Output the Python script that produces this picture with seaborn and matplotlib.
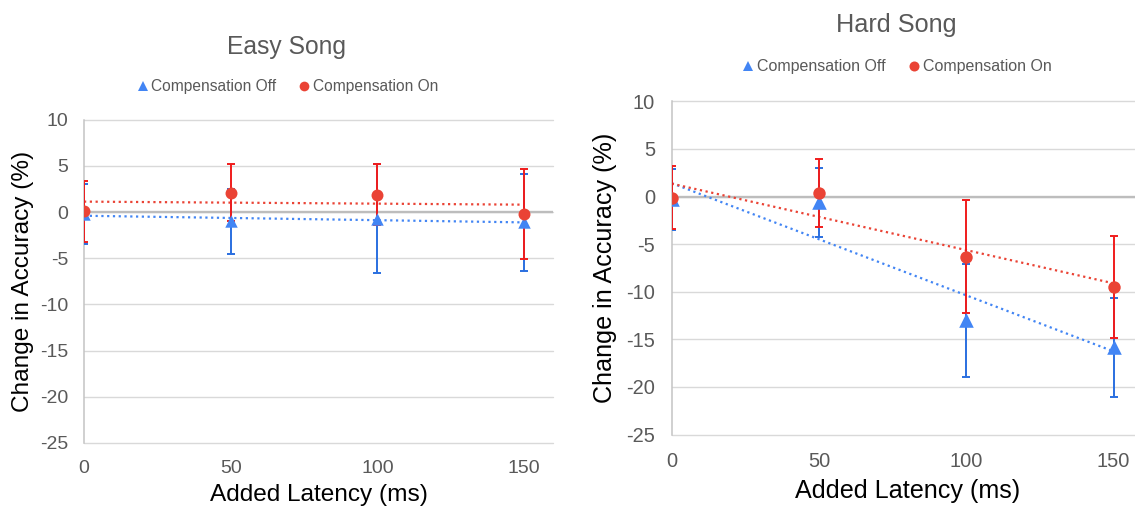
import numpy as np
import pandas as pd
import matplotlib
matplotlib.use("Agg")
import matplotlib.pyplot as plt
from matplotlib.lines import Line2D
import seaborn as sns

# Added latency levels (ms)
latency = [0, 50, 100, 150]

# Easy song: mean change in accuracy (%) and error half-widths
easy_off = [-0.2, -1.0, -0.7, -1.1]
easy_off_err = [3.3, 3.55, 5.9, 5.25]
easy_on = [0.1, 2.1, 1.9, -0.2]
easy_on_err = [3.3, 3.1, 3.3, 4.85]

# Hard song
hard_off = [-0.3, -0.6, -13.0, -15.8]
hard_off_err = [3.2, 3.6, 5.9, 5.2]
hard_on = [-0.1, 0.4, -6.3, -9.5]
hard_on_err = [3.3, 3.55, 5.9, 5.35]

series_names = ["Compensation Off", "Compensation On"]
y_ticks = [10, 5, 0, -5, -10, -15, -20, -25]
x_ticks = [0, 50, 100, 150]

sns.set_theme(style="white")
plt.rcParams["font.family"] = ["Liberation Sans", "DejaVu Sans"]
plt.rcParams["axes.unicode_minus"] = False

BLUE = "#4285f4"
RED = "#ea4335"
BLUE_ERR = "#2a6fe0"
RED_ERR = "#f01c1c"
GRID = "#d9d9d9"
ZERO = "#bdbdbd"
TICK_COL = "#595959"

W, H = 1135, 508
fig = plt.figure(figsize=(W / 100, H / 100), dpi=100)


def panel(rect, title, title_xy, legend_xy, off, off_err, on, on_err, scale,
          tri_s, circ_s, xlab_y, ylab_x):
    ax = fig.add_axes(rect)
    df = pd.DataFrame({"latency": latency, "off": off, "on": on})

    # dotted linear trend lines
    for col, c in (("off", BLUE), ("on", RED)):
        sns.regplot(data=df, x="latency", y=col, ax=ax, scatter=False, ci=None,
                    truncate=True, color=c,
                    line_kws=dict(linestyle=(0, (1, 1.6)), linewidth=1.6, zorder=2))

    # error bars
    for y, e, c in ((off, off_err, BLUE_ERR), (on, on_err, RED_ERR)):
        ax.errorbar(latency, y, yerr=e, fmt="none", ecolor=c, elinewidth=1.4,
                    capsize=2.6, capthick=1.4, zorder=3)

    # markers
    sns.scatterplot(data=df, x="latency", y="off", ax=ax, marker="^", s=tri_s,
                    color=BLUE, linewidth=0, zorder=4)
    sns.scatterplot(data=df, x="latency", y="on", ax=ax, marker="o", s=circ_s,
                    color=RED, linewidth=0, zorder=5)

    ax.set_xlim(0, 160)
    ax.set_ylim(-25, 10)
    ax.set_xticks(x_ticks)
    ax.set_yticks(y_ticks)
    ax.tick_params(axis="both", length=0, labelsize=14 * scale, colors=TICK_COL)
    ax.tick_params(axis="y", pad=11.5 * scale)
    ax.tick_params(axis="x", pad=12.5 * scale)

    ax.grid(axis="y", color=GRID, linewidth=1.0, zorder=0)
    ax.grid(axis="x", visible=False)
    for gl in ax.get_ygridlines():
        gl.set_clip_on(False)
    ax.axhline(0, color=ZERO, linewidth=1.7, zorder=1)
    for s in ("top", "right", "bottom"):
        ax.spines[s].set_visible(False)
    ax.spines["left"].set_color("#c4c4c4")
    ax.spines["left"].set_linewidth(1.1)
    ax.set_axisbelow(True)

    ax.set_xlabel("Added Latency (ms)", fontsize=17.6 * scale, color="black")
    ax.set_ylabel("Change in Accuracy (%)", fontsize=17.6 * scale, color="black")
    ax.xaxis.label.set_va("center")
    ax.yaxis.label.set_va("center")
    ax.xaxis.set_label_coords(0.5, xlab_y)
    ax.yaxis.set_label_coords(ylab_x, 0.5)

    fig.text(title_xy[0], title_xy[1], title, ha="center", va="center",
             fontsize=17.7 * scale, color="#595959")

    handles = [
        Line2D([], [], marker="^", linestyle="none", color=BLUE, markersize=7.5 * scale,
               markeredgewidth=0),
        Line2D([], [], marker="o", linestyle="none", color=RED, markersize=7.0 * scale,
               markeredgewidth=0),
    ]
    leg = ax.legend(handles, series_names, loc="center", ncol=2, frameon=False,
                    bbox_to_anchor=legend_xy, bbox_transform=fig.transFigure,
                    fontsize=11.2 * scale, handlelength=0.6, handletextpad=0.25,
                    columnspacing=1.5, borderaxespad=0)
    for t in leg.get_texts():
        t.set_color("#595959")
    return ax


panel([84 / W, 1 - 443 / H, 469.4 / W, 323.2 / H], "Easy Song",
      (286.7 / W, 1 - 47 / H), (288 / W, 1 - 86.7 / H),
      easy_off, easy_off_err, easy_on, easy_on_err, 1.0,
      tri_s=80, circ_s=74, xlab_y=-0.161, ylab_x=-0.1306)

panel([671.7 / W, 1 - 434.6 / H, 471.3 / W, 333.2 / H], "Hard Song",
      (896 / W, 1 - 25 / H), (897.5 / W, 1 - 66.7 / H),
      hard_off, hard_off_err, hard_on, hard_on_err, 1.03,
      tri_s=110, circ_s=80, xlab_y=-0.169, ylab_x=-0.1415)

fig.savefig("out.png", dpi=100)
